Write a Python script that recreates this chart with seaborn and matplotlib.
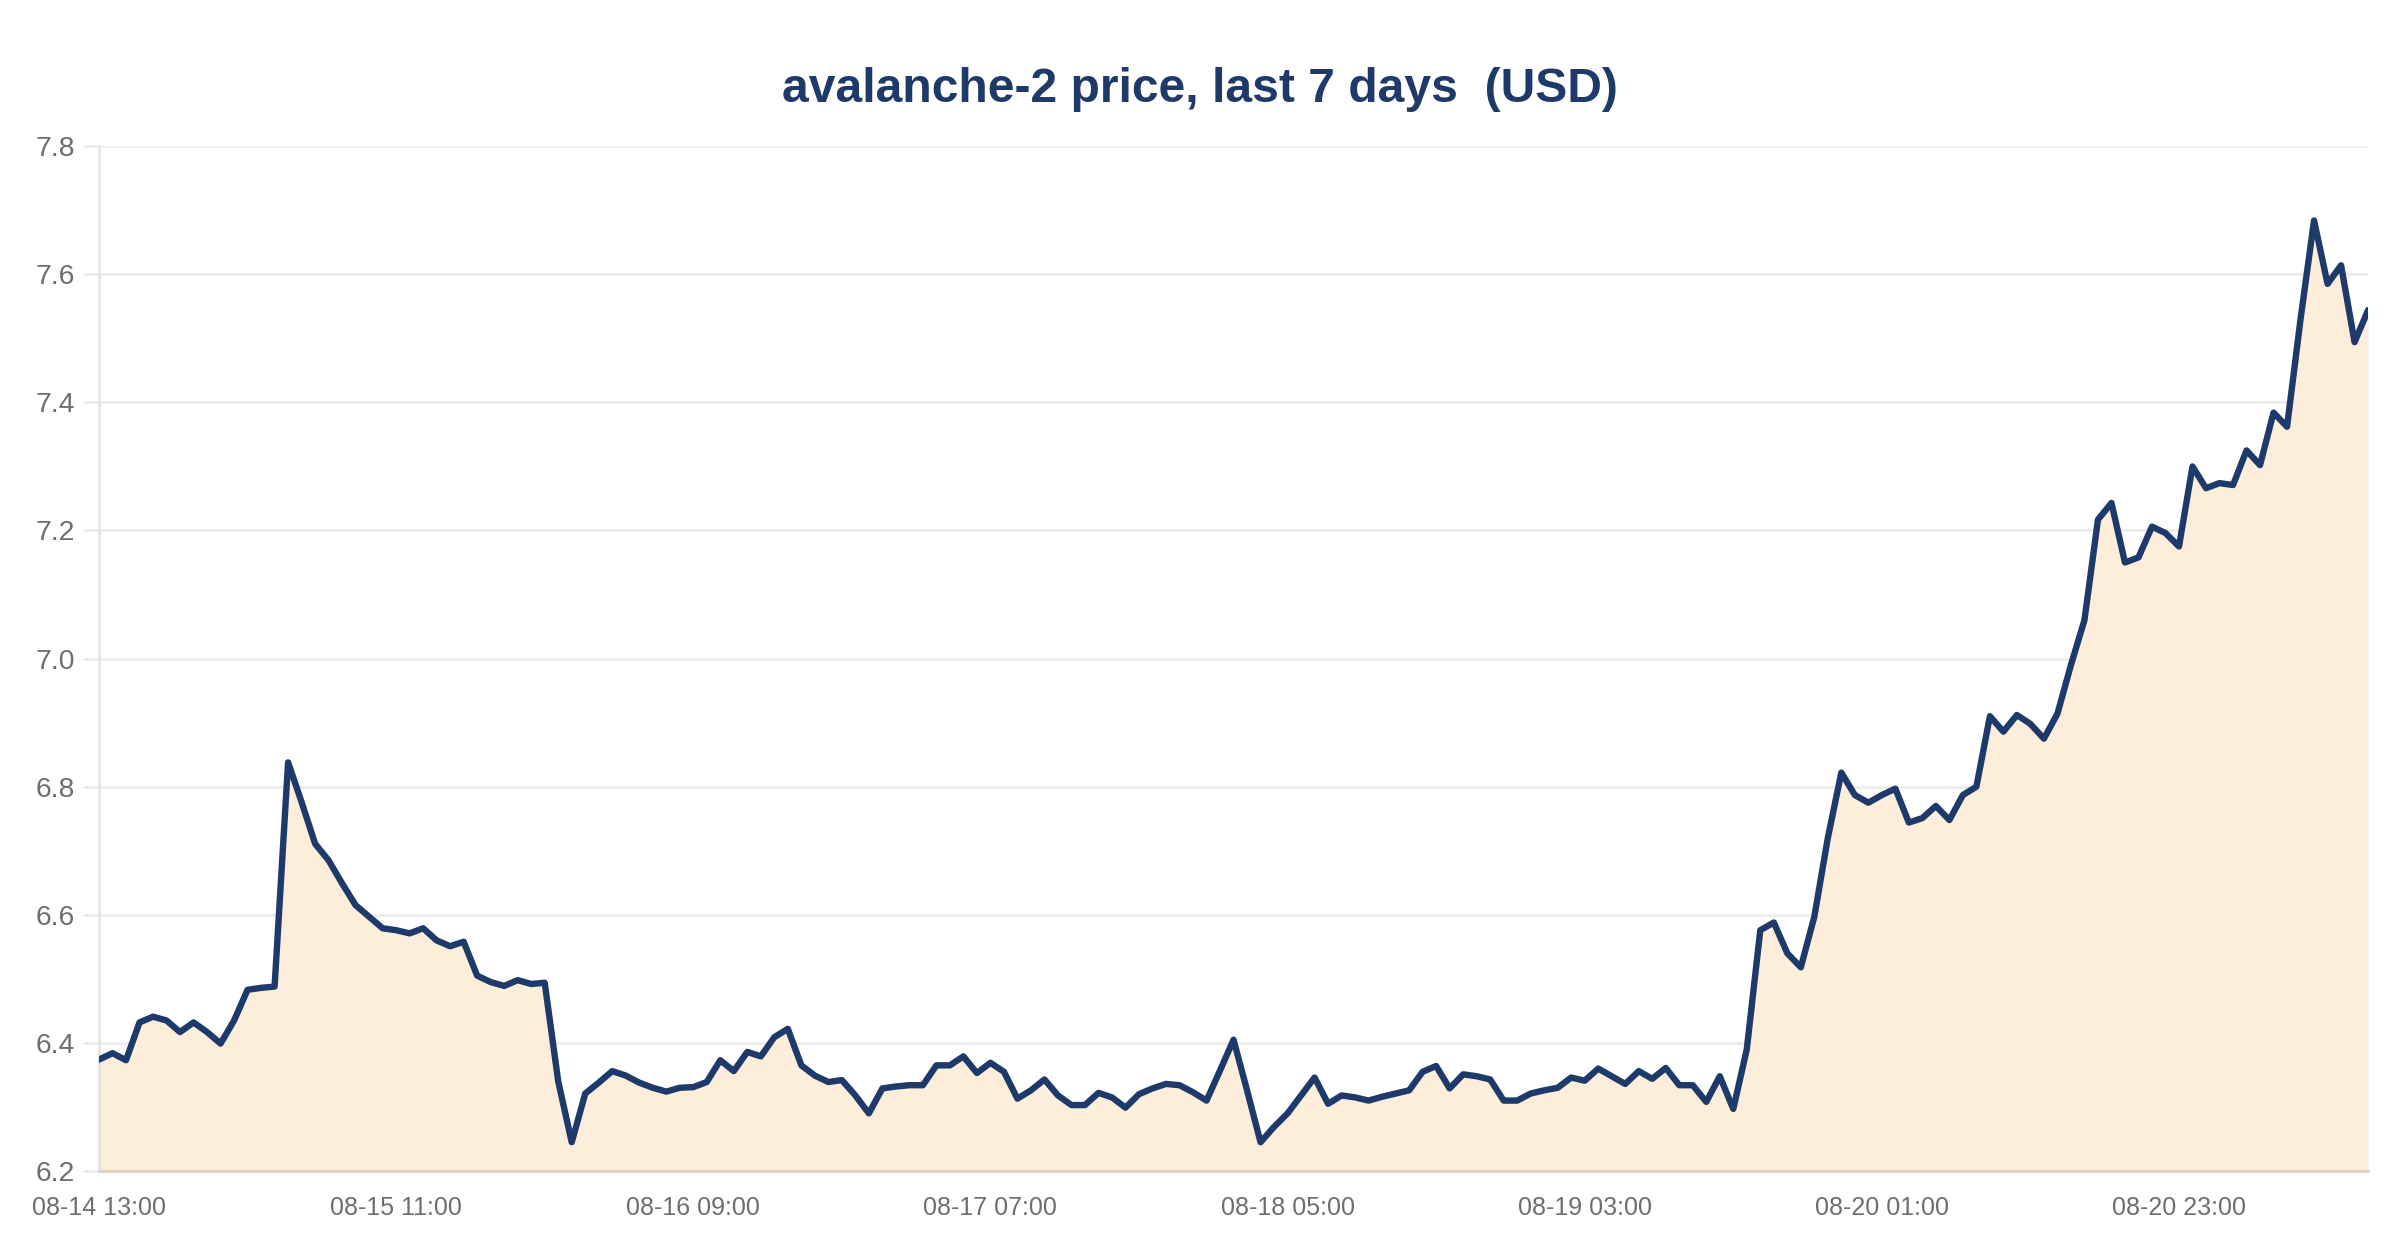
import numpy as np
import pandas as pd
import matplotlib
matplotlib.use('Agg')
import matplotlib.pyplot as plt
from matplotlib import font_manager
from matplotlib.ticker import FormatStrFormatter
import seaborn as sns

# hourly closing prices, 08-14 13:00 .. 08-21 13:00
prices = [
    6.374, 6.384, 6.373, 6.432, 6.441, 6.435, 6.417, 6.432, 6.417, 6.399,
    6.435, 6.483, 6.486, 6.488, 6.838, 6.776, 6.711, 6.685, 6.649, 6.615,
    6.597, 6.579, 6.576, 6.571, 6.579, 6.560, 6.551, 6.558, 6.505, 6.495,
    6.489, 6.498, 6.492, 6.494, 6.340, 6.245, 6.321, 6.338, 6.356, 6.349,
    6.338, 6.330, 6.324, 6.330, 6.331, 6.339, 6.373, 6.356, 6.386, 6.379,
    6.409, 6.422, 6.365, 6.349, 6.339, 6.342, 6.318, 6.290, 6.329, 6.332,
    6.334, 6.334, 6.365, 6.365, 6.379, 6.353, 6.369, 6.355, 6.313, 6.326,
    6.343, 6.318, 6.303, 6.303, 6.322, 6.315, 6.299, 6.320, 6.329, 6.336,
    6.334, 6.323, 6.310, 6.357, 6.405, 6.326, 6.245, 6.269, 6.290, 6.318,
    6.346, 6.305, 6.318, 6.315, 6.310, 6.316, 6.321, 6.326, 6.355, 6.364,
    6.329, 6.351, 6.348, 6.343, 6.310, 6.310, 6.321, 6.326, 6.330, 6.346,
    6.341, 6.360, 6.348, 6.336, 6.356, 6.344, 6.361, 6.334, 6.334, 6.308,
    6.348, 6.297, 6.390, 6.576, 6.588, 6.540, 6.518, 6.597, 6.720, 6.822,
    6.787, 6.775, 6.787, 6.797, 6.744, 6.751, 6.770, 6.748, 6.787, 6.800,
    6.910, 6.886, 6.912, 6.898, 6.875, 6.914, 6.990, 7.060, 7.217, 7.243,
    7.150, 7.158, 7.206, 7.196, 7.175, 7.300, 7.266, 7.274, 7.271, 7.325,
    7.302, 7.384, 7.362, 7.530, 7.684, 7.585, 7.614, 7.494, 7.544,
]

tick_labels = ['08-14 13:00', '08-15 11:00', '08-16 09:00', '08-17 07:00',
               '08-18 05:00', '08-19 03:00', '08-20 01:00', '08-20 23:00']
tick_step = 22  # one label every 22 hourly points

y_min, y_max, y_step = 6.2, 7.8, 0.2

title = 'avalanche-2 price, last 7 days  (USD)'

NAVY = '#1e3a6a'
FILL = '#fdeedb'
GRID = '#ebebeb'
TEXT = '#6e6e6e'

df = pd.DataFrame({'hour': np.arange(len(prices)), 'price': prices})

sns.set_theme(style='white')
plt.rcParams['font.family'] = ['Liberation Sans', 'DejaVu Sans']

# tick labels in the reference use a condensed face; use one if present
names = {f.name for f in font_manager.fontManager.ttflist}
if 'Liberation Sans Narrow' in names:
    tick_family = ['Liberation Sans Narrow', 'Liberation Sans', 'DejaVu Sans']
    x_size, y_size = 10.2, 11
else:
    tick_family = ['Liberation Sans', 'DejaVu Sans']
    x_size, y_size = 9.0, 10.2

fig, ax = plt.subplots(figsize=(12, 6.3), dpi=200)
fig.subplots_adjust(left=0.04125, right=0.9867, top=0.884, bottom=0.0706)

ax.fill_between(df['hour'], df['price'], y_min, color=FILL, linewidth=0, zorder=1)
sns.lineplot(data=df, x='hour', y='price', ax=ax, color=NAVY, linewidth=2.3, zorder=3)

ax.set_xlim(0, len(prices) - 1)
ax.set_ylim(y_min, y_max)
ax.set_yticks(np.arange(y_min, y_max + 1e-9, y_step))
ax.yaxis.set_major_formatter(FormatStrFormatter('%.1f'))
ax.set_xticks(np.arange(len(tick_labels)) * tick_step)
ax.set_xticklabels(tick_labels)

ax.grid(axis='y', color=GRID, linewidth=0.9, zorder=0)
ax.grid(axis='x', visible=False)
ax.set_axisbelow(True)

ax.tick_params(axis='y', length=5.8, width=0.9, color=GRID, pad=2.9,
               labelsize=y_size, labelcolor=TEXT, left=True)
ax.tick_params(axis='x', length=0, pad=9, labelsize=x_size, labelcolor=TEXT)
for lab in ax.get_xticklabels() + ax.get_yticklabels():
    lab.set_family(tick_family)

for side in ['top', 'right']:
    ax.spines[side].set_visible(False)
ax.spines['left'].set_color('#e3e3e3')
ax.spines['left'].set_linewidth(0.9)
ax.spines['bottom'].set_color('#dccfc3')
ax.spines['bottom'].set_linewidth(1.0)

ax.set_xlabel('')
ax.set_ylabel('')

fig.text(0.5, 1 - 89 / 1260, title, ha='center', va='center',
         fontsize=17.3, fontweight='bold', color='#1f3a68',
         family=['Liberation Sans', 'DejaVu Sans'])

fig.savefig('out.png', dpi=200, facecolor='white')
